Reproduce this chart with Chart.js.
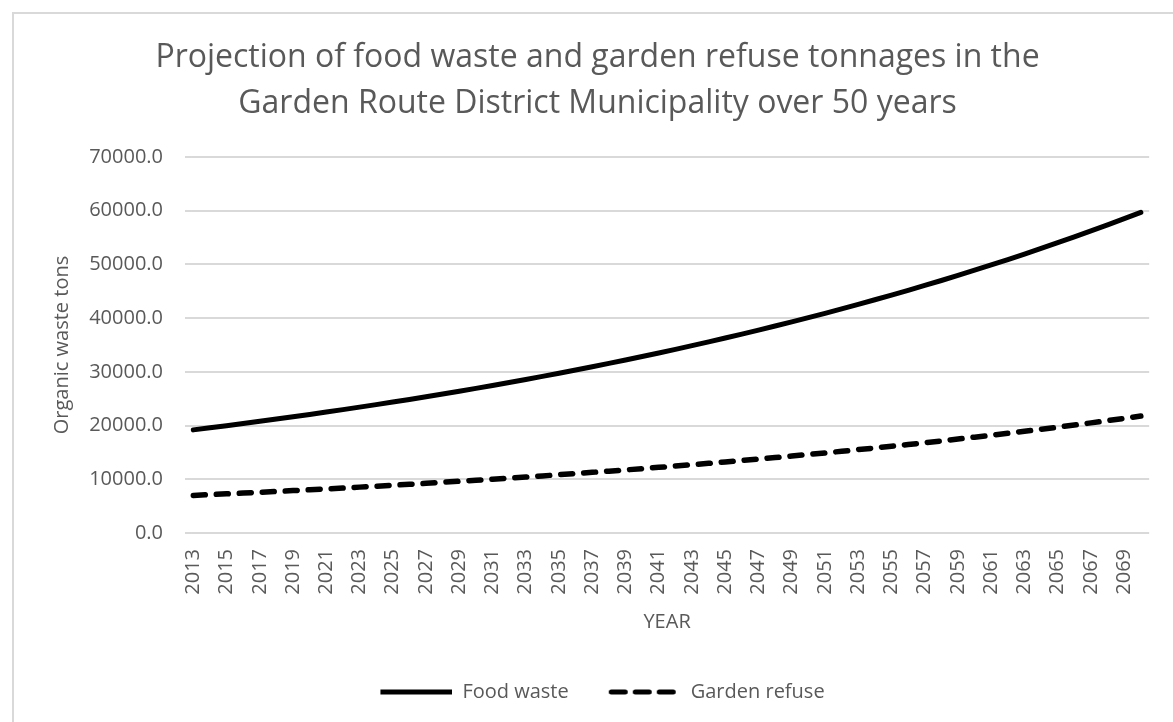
<!DOCTYPE html>
<html>
<head>
<meta charset="utf-8">
<script src="https://cdn.jsdelivr.net/npm/chart.js@4/dist/chart.umd.min.js"></script>
<style>
  html, body { margin: 0; padding: 0; background: #fff; }
  #frame { position: absolute; left: 12px; top: 12px; width: 1200px; height: 740px; border: 2px solid #d9d9d9; }
  #myChart { position: absolute; left: 0; top: 0; }
</style>
</head>
<body>
<div id="frame"></div>
<canvas id="myChart" width="1173" height="722"></canvas>
<script>
const years = [
    '2013', '2014', '2015', '2016', '2017', '2018', '2019', '2020', '2021', '2022',
    '2023', '2024', '2025', '2026', '2027', '2028', '2029', '2030', '2031', '2032',
    '2033', '2034', '2035', '2036', '2037', '2038', '2039', '2040', '2041', '2042',
    '2043', '2044', '2045', '2046', '2047', '2048', '2049', '2050', '2051', '2052',
    '2053', '2054', '2055', '2056', '2057', '2058', '2059', '2060', '2061', '2062',
    '2063', '2064', '2065', '2066', '2067', '2068', '2069', '2070'
];

const foodWaste = [
    19200, 19590, 19980, 20380, 20790, 21210, 21640, 22070, 22510, 22970,
    23430, 23900, 24380, 24870, 25370, 25880, 26400, 26930, 27470, 28020,
    28590, 29160, 29750, 30350, 30960, 31580, 32210, 32860, 33520, 34190,
    34880, 35580, 36300, 37030, 37770, 38530, 39310, 40100, 40900, 41720,
    42560, 43420, 44290, 45180, 46090, 47010, 47960, 48920, 49910, 50910,
    51930, 52980, 54040, 55130, 56240, 57370, 58520, 59700
];

const gardenRefuse = [
    7000, 7140, 7290, 7430, 7580, 7730, 7890, 8050, 8210, 8370,
    8540, 8710, 8890, 9070, 9250, 9440, 9630, 9820, 10020, 10220,
    10420, 10630, 10850, 11060, 11290, 11510, 11740, 11980, 12220, 12470,
    12720, 12970, 13230, 13500, 13770, 14050, 14330, 14620, 14910, 15210,
    15520, 15830, 16150, 16470, 16800, 17140, 17490, 17840, 18200, 18560,
    18930, 19320, 19700, 20100, 20500, 20920, 21340, 21770
];

const yTicks = [0, 10000, 20000, 30000, 40000, 50000, 60000, 70000];

const textColor = '#595959';
const font = 'Open Sans';

// little legend samples: a solid and a dashed stroke (left part kept empty as spacing)
function legendSample(dash) {
    const c = document.createElement('canvas');
    c.width = 82;
    c.height = 10;
    const g = c.getContext('2d');
    g.strokeStyle = '#000';
    g.lineWidth = 5;
    g.lineCap = dash.length ? 'round' : 'butt';
    g.setLineDash(dash);
    g.beginPath();
    g.moveTo(dash.length ? 12.5 : 10, 5);
    g.lineTo(dash.length ? 75 : 82, 5);
    g.stroke();
    return c;
}

const ctx = document.getElementById('myChart').getContext('2d');
const myChart = new Chart(ctx, {
    type: 'line',
    data: {
        labels: years,
        datasets: [{
            label: 'Food waste',
            data: foodWaste,
            borderColor: '#000',
            backgroundColor: '#000',
            borderWidth: 5,
            borderCapStyle: 'round',
            pointRadius: 0,
            pointStyle: legendSample([]),
            tension: 0
        }, {
            label: 'Garden refuse',
            data: gardenRefuse,
            borderColor: '#000',
            backgroundColor: '#000',
            borderWidth: 5.5,
            borderDash: [12, 11],
            borderCapStyle: 'round',
            pointRadius: 0,
            pointStyle: legendSample([14, 10]),
            tension: 0
        }]
    },
    options: {
        responsive: false,
        animation: false,
        layout: {
            padding: { left: 40, right: 18, top: 12, bottom: 10 }
        },
        scales: {
            x: {
                offset: true,
                afterFit: function (scale) {
                    scale.height = 119;
                },
                grid: { display: false },
                border: { display: false },
                ticks: {
                    autoSkip: false,
                    minRotation: 90,
                    maxRotation: 90,
                    padding: 8,
                    color: textColor,
                    font: { family: font, size: 20 },
                    callback: function (value, index) {
                        return index % 2 === 0 ? years[index] : '';
                    }
                },
                title: {
                    display: true,
                    text: 'YEAR',
                    color: textColor,
                    font: { family: font, size: 20 },
                    padding: { top: 0, bottom: 18 }
                }
            },
            y: {
                min: 0,
                max: 70000,
                afterBuildTicks: function (scale) {
                    scale.ticks = yTicks.map(v => ({ value: v }));
                },
                afterFit: function (scale) {
                    scale.width = 145;
                },
                grid: {
                    color: '#d9d9d9',
                    lineWidth: 2,
                    drawTicks: false
                },
                border: { display: false },
                ticks: {
                    padding: 22,
                    color: textColor,
                    font: { family: font, size: 20 },
                    callback: function (value) {
                        return value.toFixed(1);
                    }
                },
                title: {
                    display: true,
                    text: 'Organic waste tons',
                    color: textColor,
                    font: { family: font, size: 20 },
                    padding: { top: 10, bottom: 0 }
                }
            }
        },
        plugins: {
            title: {
                display: true,
                text: ['Projection of food waste and garden refuse tonnages in the',
                       'Garden Route District Municipality over 50 years'],
                color: textColor,
                font: { family: font, size: 32, weight: 'normal', lineHeight: 1.4375 },
                padding: { top: 23, bottom: 30 }
            },
            legend: {
                position: 'bottom',
                labels: {
                    usePointStyle: true,
                    pointStyleWidth: 82,
                    boxHeight: 10,
                    padding: 30,
                    color: textColor,
                    font: { family: font, size: 20 }
                }
            },
            tooltip: { enabled: false }
        }
    }
});
</script>
</body>
</html>
